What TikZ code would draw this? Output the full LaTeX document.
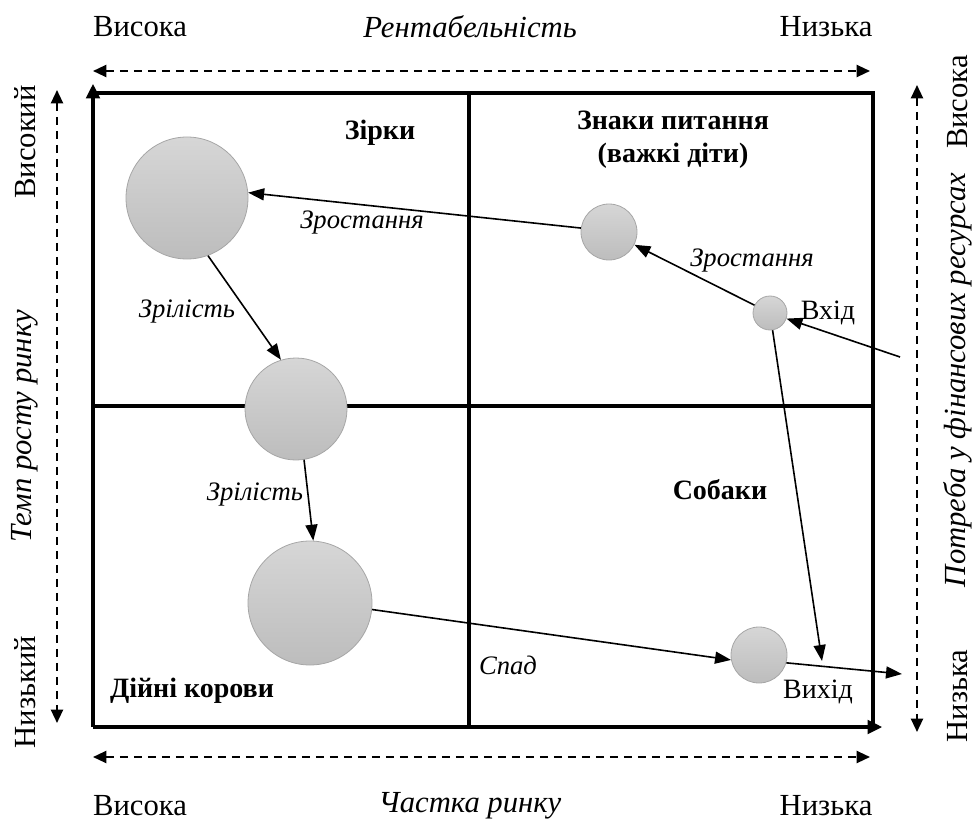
\documentclass[tikz,border=0pt]{standalone}
\usepackage{fontspec}
\setmainfont{Liberation Serif}[
  BoldFont={Liberation Serif Bold},
  ItalicFont={Liberation Serif Italic},
  BoldItalicFont={Liberation Serif Bold Italic}]
\usetikzlibrary{arrows.meta}

\tikzset{
  scaletxt/.style={font=\fontsize{23}{27}\selectfont},
  scaleit/.style={font=\fontsize{23}{27}\selectfont\itshape},
  txt/.style={font=\fontsize{21}{25}\selectfont},
  ital/.style={font=\fontsize{20}{24}\selectfont\itshape},
  head/.style={font=\fontsize{21}{25}\selectfont\bfseries, align=center},
  border/.style={line width=2.8pt},
  axis/.style={line width=1.6pt, dash pattern=on 6pt off 4.5pt,
    {Triangle[length=10pt,width=9pt]}-{Triangle[length=10pt,width=9pt]}},
  move/.style={line width=1.2pt, -{Triangle[length=12pt,width=9pt]}},
  unit/.style={circle, draw=white!65!black, line width=0.6pt,
    top color=white!84!black, bottom color=white!74!black, inner sep=0pt}
}

\begin{document}
\begin{tikzpicture}[x=0.75pt, y=-0.75pt]
    \useasboundingbox (0,0) rectangle (977,827);
    \coordinate (NW) at (93,93);
    \coordinate (NE) at (873,93);
    \coordinate (SW) at (93,727);
    \coordinate (SE) at (873,727);
    \coordinate (Nm) at (469,93);
    \coordinate (Sm) at (469,727);
    \coordinate (Wm) at (93,406);
    \coordinate (Em) at (873,406);
    % frame of the matrix, left and bottom sides are the axes
    \draw[border] (NW) -- (NE) -- (SE);
    \draw[border, -{Triangle[length=11pt,width=10pt]}, shorten >=-7pt] (SW) -- (NW);
    \draw[border, -{Triangle[length=11pt,width=10pt]}, shorten >=-7pt] (SW) -- (SE);
    \draw[border] (Nm) -- (Sm);
    \draw[border] (Wm) -- (Em);
    % dashed scales round the frame
    \coordinate (tl) at (93,71);
    \coordinate (tr) at (870,71);
    \coordinate (bl) at (93,757);
    \coordinate (br) at (870,757);
    \coordinate (lt) at (57,90);
    \coordinate (lb) at (57,723);
    \coordinate (rt) at (917,85);
    \coordinate (rb) at (917,732);
    \draw[axis] (tl) -- (tr);
    \draw[axis] (bl) -- (br);
    \draw[axis] (lt) -- (lb);
    \draw[axis] (rt) -- (rb);
    % scale captions
    \node[scaletxt] (topHi) at (140,27) {Висока};
    \node[scaleit] (topName) at (470,27) {Рентабельність};
    \node[scaletxt] (topLo) at (826,27) {Низька};
    \node[scaletxt] (botHi) at (140,806) {Висока};
    \node[scaleit] (botName) at (470,806) {Частка ринку};
    \node[scaletxt] (botLo) at (826,806) {Низька};
    \node[scaletxt, rotate=90] (leftHi) at (25,142) {Високий};
    \node[scaleit, rotate=90] (leftName) at (25,426) {Темп росту ринку};
    \node[scaletxt, rotate=90] (leftLo) at (25,692) {Низький};
    \node[scaletxt, rotate=90] (rightHi) at (958,102) {Висока};
    \node[scaleit, rotate=90] (rightName) at (958,380) {Потреба у фінансових ресурсах};
    \node[scaletxt, rotate=90] (rightLo) at (958,696) {Низька};
    % quadrant names
    \node[head] (stars) at (380,133) {Зірки};
    \node[head] (quests) at (673,140) {Знаки питання\\(важкі діти)};
    \node[head] (dogs) at (720,490) {Собаки};
    \node[head] (cows) at (192,691) {Дійні корови};
    % products
    \node[unit, minimum size=91.5pt] (star) at (187,198) {};
    \node[unit, minimum size=42pt] (quest) at (609,232) {};
    \node[unit, minimum size=25.5pt] (entry) at (770,313) {};
    \node[unit, minimum size=76.5pt] (mid) at (296,409) {};
    \node[unit, minimum size=93pt] (cow) at (310,603) {};
    \node[unit, minimum size=42pt] (dog) at (759,655) {};
    \coordinate (in) at (900,357);
    \coordinate (down) at (822,661);
    \coordinate (out) at (902,674);
    % movements
    \draw[move] (in) -- (entry);
    \draw[move] (entry) -- (quest);
    \draw[move] (quest.172) -- (star.5);
    \draw[move] (entry) -- (down);
    \draw[move] (star.-70) -- (mid.107);
    \draw[move] (mid.-81) -- (cow.87);
    \draw[move] (cow.-6) -- (dog.190);
    \draw[move] (dog.-16) -- (out);
    \node[ital] (grow1) at (362,223) {Зростання};
    \node[ital] (grow2) at (752,261) {Зростання};
    \node[ital] (ripe1) at (187,312) {Зрілість};
    \node[ital] (ripe2) at (255,495) {Зрілість};
    \node[ital] (fall) at (508,665) {Спад};
    \node[txt] (inLab) at (828,313) {Вхід};
    \node[txt] (outLab) at (818,692) {Вихід};
\end{tikzpicture}
\end{document}
